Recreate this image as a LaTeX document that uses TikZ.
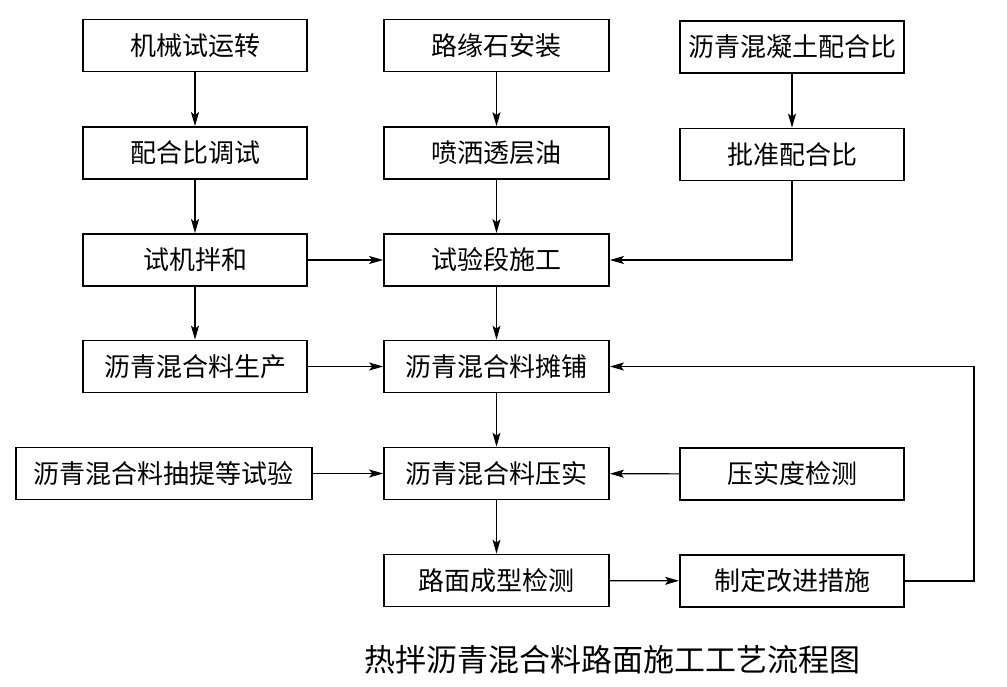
\documentclass[tikz,border=0pt]{standalone}
\usepackage{fontspec}
\setmainfont{Noto Sans CJK SC}
\usetikzlibrary{arrows.meta}
\tikzset{
  box/.style={draw, line width=1.8pt, rectangle, inner sep=0pt, minimum height=52pt, minimum width=224pt, font=\fontsize{26}{29}\selectfont, anchor=center},
  conn/.style={line width=1.1pt, -{Stealth[length=14pt,width=8pt,inset=3pt]}},
}
\begin{document}
\begin{tikzpicture}[x=1pt,y=-1pt]
\useasboundingbox (0,0) rectangle (1007,686);
% column 1
\node[box] (a1) at (195,45.5) {机械试运转};
\node[box] (a2) at (195,153) {配合比调试};
\node[box] (a3) at (195,260) {试机拌和};
\node[box] (a4) at (195,366.5) {沥青混合料生产};
\node[box, minimum width=296pt] (a5) at (164,473.5) {沥青混合料抽提等试验};
% column 2
\node[box, minimum width=225pt] (b1) at (496.5,45.5) {路缘石安装};
\node[box, minimum width=225pt] (b2) at (496.5,153) {喷洒透层油};
\node[box, minimum width=225pt] (b3) at (496.5,260) {试验段施工};
\node[box, minimum width=225pt] (b4) at (496.5,366.5) {沥青混合料摊铺};
\node[box, minimum width=225pt] (b5) at (496.5,473.5) {沥青混合料压实};
\node[box, minimum width=225pt] (b6) at (496.5,580.5) {路面成型检测};
% column 3
\node[box] (c1) at (792,47) {沥青混凝土配合比};
\node[box] (c2) at (792,154.5) {批准配合比};
\node[box] (c5) at (792,474) {压实度检测};
\node[box] (c6) at (792,581) {制定改进措施};
\coordinate (fb) at (974,366.5);
% caption
\node[font=\fontsize{31}{34}\selectfont, inner sep=0pt] (cap) at (612,660) {热拌沥青混合料路面施工工艺流程图};
% connectors
\draw[conn] (a1) -- (a2);
\draw[conn] (a2) -- (a3);
\draw[conn] (a3) -- (a4);
\draw[conn] (b1) -- (b2);
\draw[conn] (b2) -- (b3);
\draw[conn] (b3) -- (b4);
\draw[conn] (b4) -- (b5);
\draw[conn] (b5) -- (b6);
\draw[conn] (c1) -- (c2);
\draw[conn] (c2.south) |- (b3.east);
\draw[conn] (a3) -- (b3);
\draw[conn] (a4) -- (b4);
\draw[conn] (a5) -- (b5);
\draw[conn] (c5) -- (b5);
\draw[conn] (b6) -- (c6);
\draw[conn] (c6.east) -| (fb) -- (b4.east);
\end{tikzpicture}
\end{document}
